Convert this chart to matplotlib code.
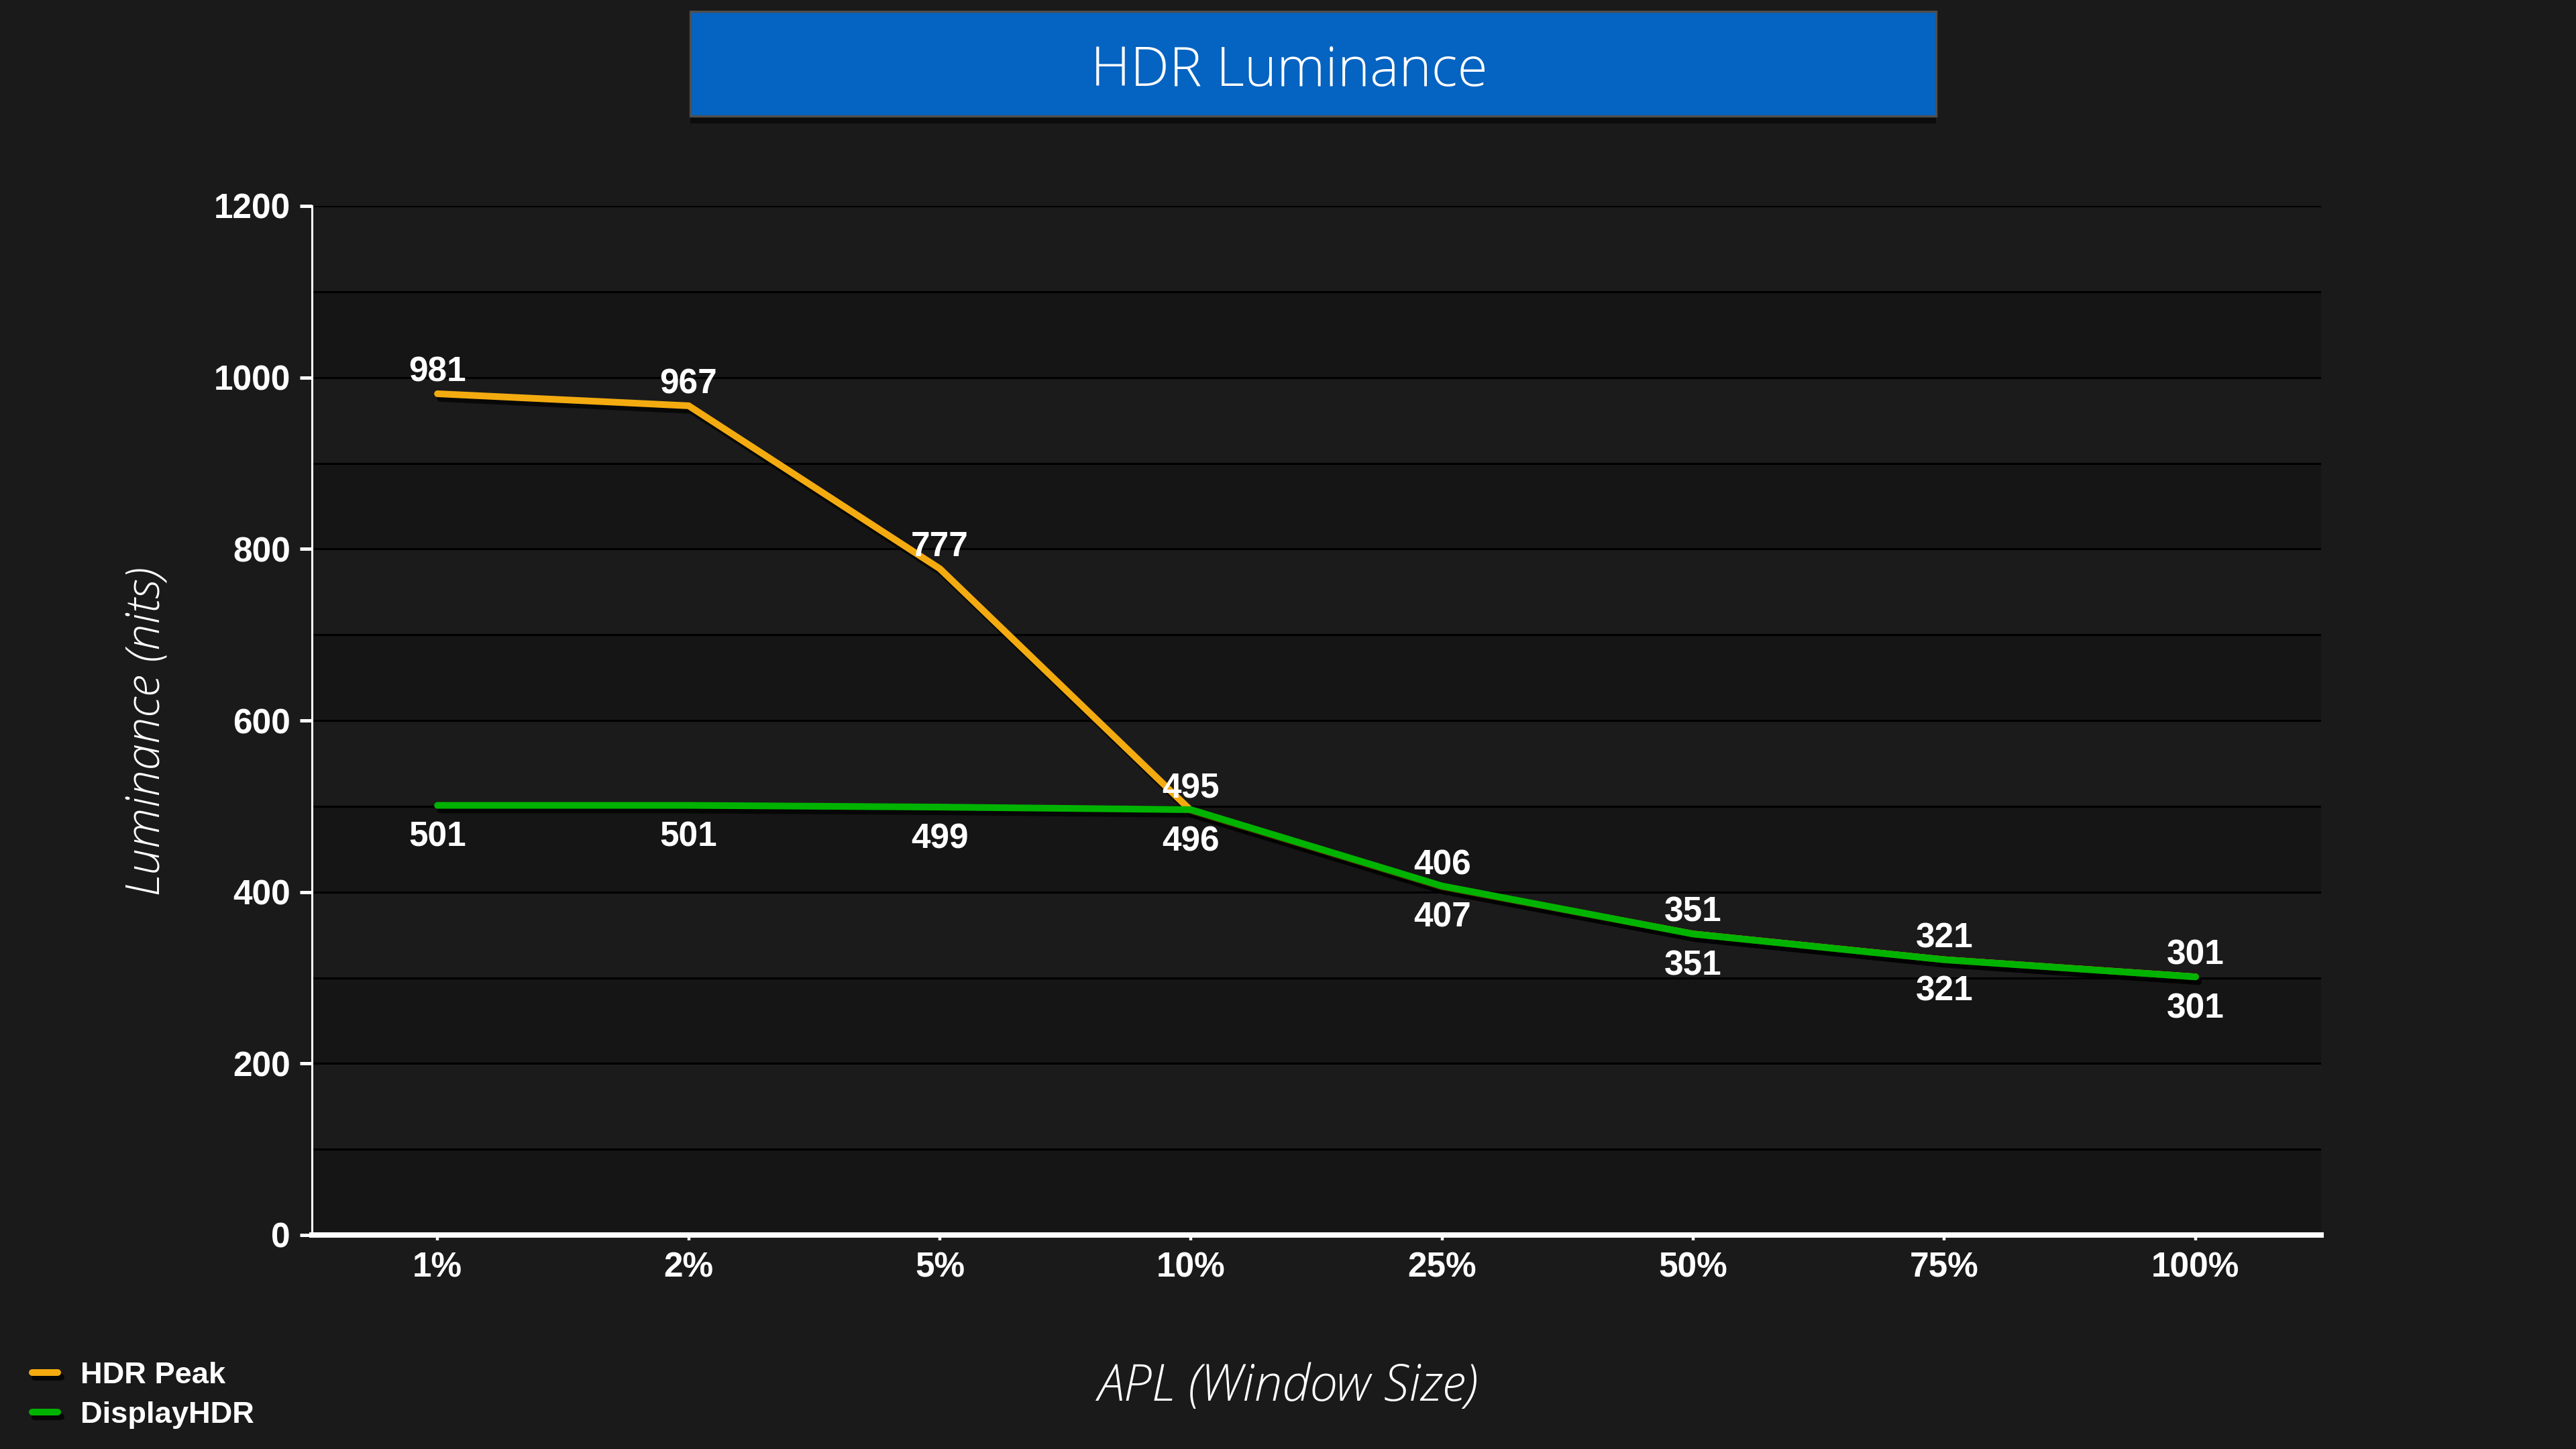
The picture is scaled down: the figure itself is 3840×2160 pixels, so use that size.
import matplotlib
matplotlib.use("Agg")
import matplotlib.pyplot as plt
import matplotlib.patheffects as pe
from matplotlib.patches import Rectangle
import numpy as np

# ---- data ----
categories = ["1%", "2%", "5%", "10%", "25%", "50%", "75%", "100%"]
hdr_peak = [981, 967, 777, 495, 406, 351, 321, 301]
display_hdr = [501, 501, 499, 496, 407, 351, 321, 301]
series_names = ["HDR Peak", "DisplayHDR"]
y_ticks = [0, 200, 400, 600, 800, 1000, 1200]
title = "HDR Luminance"
x_label = "APL (Window Size)"
y_label = "Luminance (nits)"

BG = "#1a1a1a"
ORANGE = "#F3AB10"
GREEN = "#00B300"
BOLD = {"family": ["Liberation Sans", "DejaVu Sans"], "weight": "bold"}
LIGHT = ["Open Sans", "Lato", "DejaVu Sans"]

fig = plt.figure(figsize=(19.2, 10.8), dpi=200, facecolor=BG)
L, R, B, T = 465 / 3840, 3460 / 3840, 1 - 1841 / 2160, 1 - 307 / 2160
ax = fig.add_axes([L, B, R - L, T - B])
ax.set_facecolor(BG)

x = np.arange(len(categories))
ax.set_xlim(-0.5, len(categories) - 0.5)
ax.set_ylim(0, 1200)

# alternating bands
for i, lo in enumerate(range(0, 1200, 100)):
    ax.axhspan(lo, lo + 100, color="#151515" if i % 2 == 0 else "#1b1b1b", lw=0, zorder=0)

ax.set_yticks(y_ticks)
ax.set_yticks(np.arange(0, 1201, 100), minor=True)
ax.grid(which="both", axis="y", color="black", lw=1.1, zorder=1)
ax.set_axisbelow(True)

shadow = [pe.SimpleLineShadow(offset=(1.5, -2.5), shadow_color="black", alpha=0.7), pe.Normal()]
l1, = ax.plot(x, hdr_peak, color=ORANGE, lw=3.6, solid_capstyle="round",
              solid_joinstyle="miter", zorder=3, path_effects=shadow, label=series_names[0])
l2, = ax.plot(x, display_hdr, color=GREEN, lw=3.6, solid_capstyle="round",
              solid_joinstyle="miter", zorder=4, path_effects=shadow, label=series_names[1])

for xi, v in zip(x, hdr_peak):
    ax.annotate(str(v), (xi, v), xytext=(0, 6.7), textcoords="offset points",
                ha="center", va="baseline", color="white", fontsize=18.5, zorder=5, **BOLD)
for xi, v in zip(x, display_hdr):
    ax.annotate(str(v), (xi, v), xytext=(0, -22), textcoords="offset points",
                ha="center", va="baseline", color="white", fontsize=18.5, zorder=5, **BOLD)

ax.set_xticks(x)
ax.set_xticklabels(categories)
for s in ["top", "right"]:
    ax.spines[s].set_visible(False)
ax.spines["left"].set_color("white")
ax.spines["left"].set_linewidth(1.1)
ax.spines["bottom"].set_color("white")
ax.spines["bottom"].set_linewidth(2.9)
ax.tick_params(axis="y", which="major", direction="out", length=6.5, width=1.8,
               color="white", pad=5, labelcolor="white", labelsize=18.5)
ax.tick_params(axis="y", which="minor", length=0)
ax.tick_params(axis="x", direction="out", length=3, width=1.6, color="white",
               pad=6, labelcolor="white", labelsize=18.5)
for lab in ax.get_xticklabels() + ax.get_yticklabels():
    lab.set_fontfamily(BOLD["family"])
    lab.set_fontweight("bold")

ax.set_xlabel(x_label, family=LIGHT, style="italic", fontweight="light",
              fontsize=27, color="white")
ax.xaxis.label.set_va("center")
ax.xaxis.set_label_coords((1920 - 465) / (3460 - 465), ((1 - 2068 / 2160) - B) / (T - B))
ax.set_ylabel(y_label, family=LIGHT, style="italic", fontweight="light",
              fontsize=25.5, color="white")
ax.yaxis.label.set_va("center")
ax.yaxis.set_label_coords((220 - 465) / (3460 - 465), (1841 - 1090) / (1841 - 307))

# title box
bx0, bx1, by0, by1 = 1029 / 3840, 2886 / 3840, 1 - 173 / 2160, 1 - 17 / 2160
box = Rectangle((bx0, by0), bx1 - bx0, by1 - by0, transform=fig.transFigure,
                facecolor="#0563C1", edgecolor="#4f4f4f", lw=1.2,
                path_effects=[pe.SimplePatchShadow(offset=(0, -4), shadow_rgbFace="black", alpha=0.5),
                              pe.Normal()])
fig.patches.append(box)
fig.text(1922 / 3840, 1 - 128 / 2160, title, ha="center", va="baseline",
         color="white", fontsize=29.5, family=LIGHT, fontweight="light")

leg = ax.legend(handles=[l1, l2], loc="lower left",
                bbox_to_anchor=(48 / 3840, 1 - 2130 / 2160), bbox_transform=fig.transFigure,
                frameon=False, borderpad=0, borderaxespad=0, handlelength=0.85,
                handletextpad=0.75, labelspacing=0.4,
                prop={"family": BOLD["family"], "weight": "bold", "size": 16.3})
for t in leg.get_texts():
    t.set_color("white")

fig.savefig("out.png", dpi=200, facecolor=BG)
